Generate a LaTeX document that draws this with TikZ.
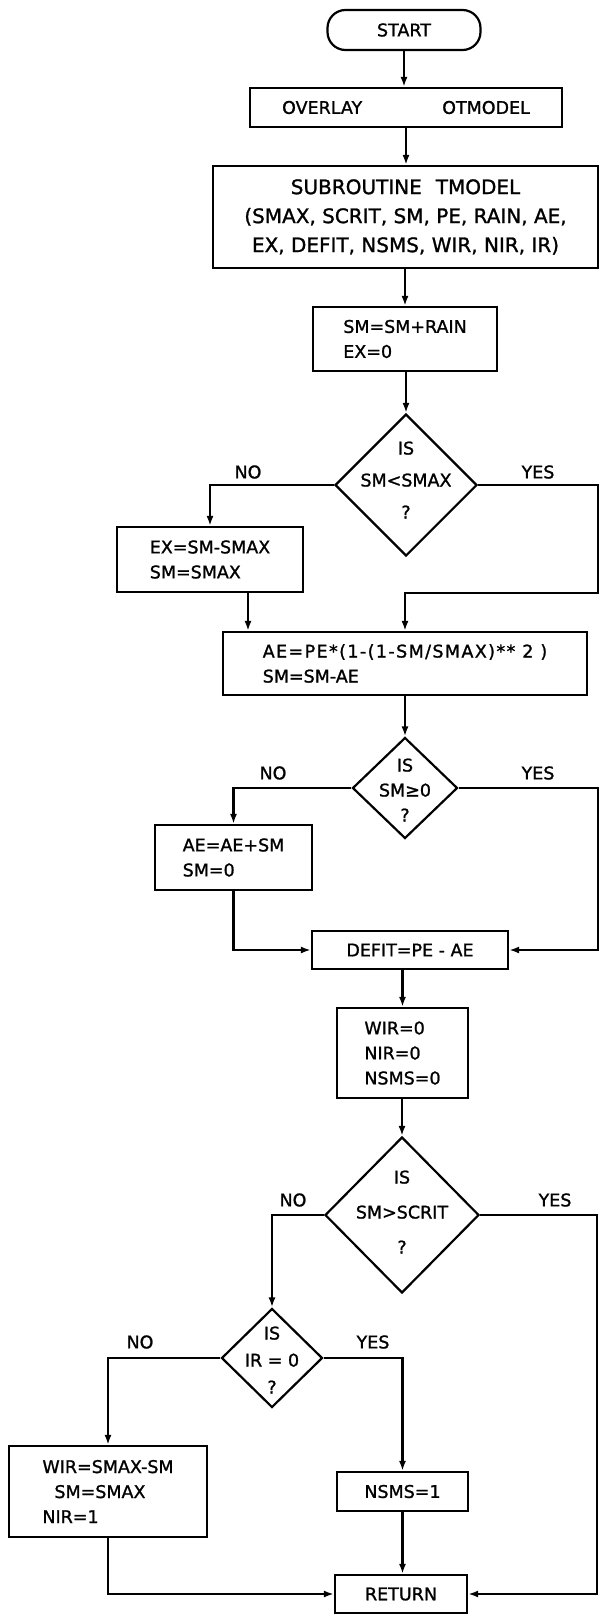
\documentclass[tikz,border=0pt]{standalone}
\usepackage{fontspec}
\setmainfont{DejaVu Sans}[FakeBold=1.2]
\usetikzlibrary{arrows.meta,shapes.geometric}
\begin{document}
\begin{tikzpicture}[x=1pt,y=-1pt,
  every node/.style={font=\fontsize{17.5}{25}\selectfont},
  box/.style={draw,line width=2.2pt,inner sep=0pt,align=left},
  dia/.style={draw,line width=2.2pt,shape=diamond,inner sep=0pt},
  lbl/.style={inner sep=0pt,align=center},
  arr/.style={line width=2.2pt,-{Latex[length=10pt,width=7pt]}},
  ln/.style={line width=2.2pt}]
\useasboundingbox (0,0) rectangle (600,1614);

% nodes
\node[box,rounded corners=18pt,minimum width=153pt,minimum height=40pt,align=center] (start) at (404,30) {START};
\node[box,minimum width=312pt,minimum height=39pt] (ovl) at (406,107.5) {OVERLAY\hspace{80pt}OTMODEL};
\node[box,minimum width=385pt,minimum height=102pt,align=center,font=\fontsize{20}{29}\selectfont] (sub) at (405.5,217)
  {SUBROUTINE\hspace{14pt}TMODEL\\(SMAX, SCRIT, SM, PE, RAIN, AE,\\EX, DEFIT, NSMS, WIR, NIR, IR)};
\node[box,minimum width=184pt,minimum height=64pt] (rain) at (405,339) {SM=SM+RAIN\\EX=0};

\node[dia,minimum width=142pt,minimum height=142pt] (d1) at (406,485) {};
\node[lbl,font=\fontsize{17.5}{32}\selectfont] (d1t) at (406,480) {IS\\SM<SMAX\\?};

\node[box,minimum width=186pt,minimum height=65pt] (ex) at (210,559.5) {EX=SM-SMAX\\SM=SMAX};
\node[box,minimum width=364pt,minimum height=63pt] (ae) at (405,663.5)
  {{\addfontfeature{LetterSpace=8}AE=PE*(1-(1-SM/SMAX)** 2 )}\\SM=SM-AE};

\node[dia,minimum width=105pt,minimum height=101pt] (d2) at (405,788) {};
\node[lbl,font=\fontsize{17.5}{25}\selectfont] (d2t) at (405,790) {IS\\SM≥0\\?};

\node[box,minimum width=157pt,minimum height=65pt] (ae2) at (233.5,857.5) {AE=AE+SM\\SM=0};
\node[box,minimum width=196pt,minimum height=38pt,align=center] (defit) at (410,950) {DEFIT=PE - AE};
\node[box,minimum width=131pt,minimum height=90pt] (wir0) at (402.5,1053) {WIR=0\\NIR=0\\NSMS=0};

\node[dia,minimum width=154pt,minimum height=156pt] (d3) at (402,1215) {};
\node[lbl,font=\fontsize{17.5}{35}\selectfont] (d3t) at (402,1212) {IS\\SM>SCRIT\\?};

\node[dia,minimum width=101pt,minimum height=99pt] (d4) at (272,1358) {};
\node[lbl,font=\fontsize{17.5}{27}\selectfont] (d4t) at (272,1360) {IS\\IR = 0\\?};

\node[box,minimum width=198pt,minimum height=91pt] (wir) at (108,1491.5) {WIR=SMAX-SM\\\hspace*{12pt}SM=SMAX\\NIR=1};
\node[box,minimum width=131pt,minimum height=39pt,align=center] (nsms1) at (402.5,1491.5) {NSMS=1};
\node[box,minimum width=132pt,minimum height=38pt,align=center] (ret) at (401,1594) {RETURN};

% branch labels
\node[lbl] (no1) at (248,472) {NO};
\node[lbl] (yes1) at (538,472) {YES};
\node[lbl] (no2) at (273,773) {NO};
\node[lbl] (yes2) at (538,773) {YES};
\node[lbl] (no3) at (293,1200) {NO};
\node[lbl] (yes3) at (555,1200) {YES};
\node[lbl] (no4) at (140,1342) {NO};
\node[lbl] (yes4) at (373,1342) {YES};

% corner coordinates
\coordinate (c1) at (598,593);
\coordinate (c2) at (598,950);
\coordinate (c3) at (597,1594);

% connectors
\draw[arr] (start.south) -- (start.south |- ovl.north);
\draw[arr] (ovl.south) -- (ovl.south |- sub.north);
\draw[arr] (sub.south -| rain.north) -- (rain.north);
\draw[arr] (rain.south -| d1.north) -- (d1.north);
\draw[arr] (d1.west) -| (ex.north);
\draw[arr] (d1.east) -| (c1) -| (ae.north);
\draw[arr] ([xshift=38pt]ex.south) -- ([xshift=38pt]ex.south |- ae.north);
\draw[arr] (ae.south -| d2.north) -- (d2.north);
\draw[arr] (d2.west) -| (ae2.north);
\draw[arr] (d2.east) -| (c2) -- (defit.east);
\draw[arr] (ae2.south) |- (defit.west);
\draw[arr] (defit.south -| wir0.north) -- (wir0.north);
\draw[arr] (wir0.south -| d3.north) -- (d3.north);
\draw[arr] (d3.west) -| (d4.north);
\draw[arr] (d3.east) -| (c3) -- (ret.east);
\draw[arr] (d4.west) -| (wir.north);
\draw[arr] (d4.east) -| (nsms1.north);
\draw[arr] (nsms1.south) -- (nsms1.south |- ret.north);
\draw[arr] (wir.south) |- (ret.west);
\end{tikzpicture}
\end{document}
